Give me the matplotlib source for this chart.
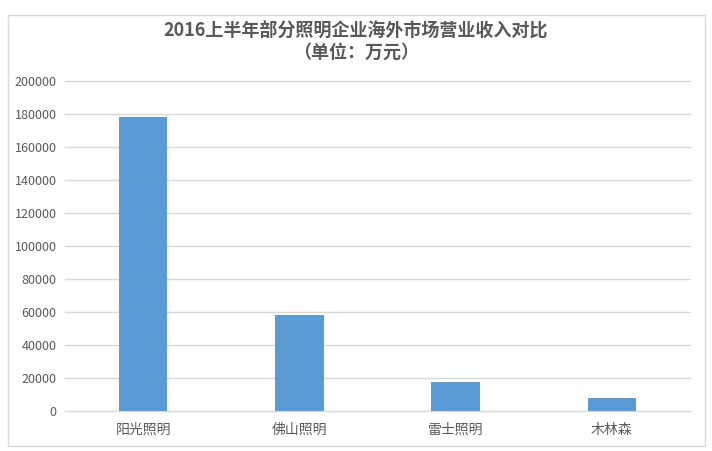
import matplotlib
matplotlib.use("Agg")
import matplotlib.pyplot as plt
from matplotlib.patches import Rectangle

plt.rcParams['font.family'] = ['Noto Sans CJK SC', 'DejaVu Sans']

categories = ['阳光照明', '佛山照明', '雷士照明', '木林森']
values = [178300, 58000, 17300, 7500]
yticks = [0, 20000, 40000, 60000, 80000, 100000, 120000, 140000, 160000, 180000, 200000]
title = '2016上半年部分照明企业海外市场营业收入对比\n（单位：万元）'

fig = plt.figure(figsize=(7.12, 4.51), dpi=100)
fig.patch.set_facecolor('white')
fig.patches.append(Rectangle((8/712, 1-446/451), 697/712, 431/451, transform=fig.transFigure,
                             fill=False, edgecolor='#d9d9d9', linewidth=1))

ax = fig.add_axes([65/712, 1-410.5/451, 625/712, (410.5-81.5)/451])
x = range(len(categories))
ax.bar(x, values, width=0.31, color='#5b9bd5', zorder=3)
ax.set_xlim(-0.5, len(categories)-0.5)
ax.set_ylim(0, 200000)
ax.set_yticks(yticks)
ax.set_yticklabels([str(v) for v in yticks])
ax.set_xticks(list(x))
ax.set_xticklabels(categories)
ax.tick_params(axis='both', length=0, colors='#595959')
ax.tick_params(axis='y', pad=6, labelsize=9)
ax.tick_params(axis='x', pad=9, labelsize=10)
for s in ['top', 'right', 'left']:
    ax.spines[s].set_visible(False)
ax.spines['bottom'].set_color('#d9d9d9')
ax.grid(axis='y', color='#d9d9d9', linewidth=1, zorder=0)
for gl in ax.get_ygridlines():
    gl.set_clip_on(False)

fig.text(0.5, 1-41/451, title, ha='center', va='center', fontsize=13, fontweight='bold',
         color='#595959', linespacing=1.2)

fig.savefig('out.png', dpi=100, facecolor='white')
